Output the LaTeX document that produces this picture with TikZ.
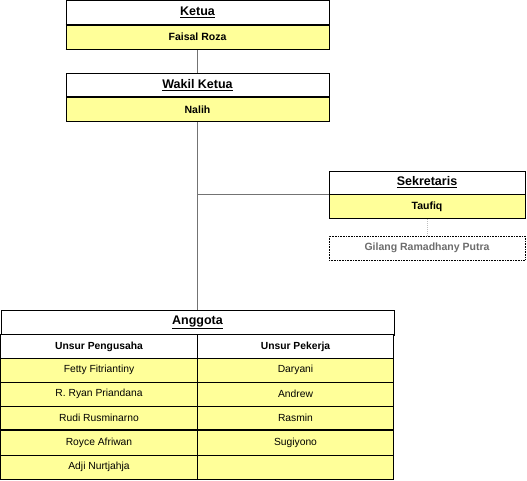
\documentclass[tikz,border=0pt]{standalone}
\usepackage{fontspec}
\setmainfont{Liberation Sans}
\usepackage{tikz}
\usetikzlibrary{positioning}
\definecolor{kuning}{HTML}{FFFF99}
\tikzstyle{judul} = [draw=black, fill=white, line width=0.8pt, inner sep=0pt, font=\fontsize{12.5}{14}\selectfont\bfseries]
\tikzstyle{nama} = [draw=black, fill=kuning, line width=0.8pt, inner sep=0pt, font=\fontsize{10.5}{12}\selectfont\bfseries]
\tikzstyle{sel} = [draw=black, fill=kuning, line width=0.6pt, inner sep=0pt, minimum width=196.5pt, minimum height=24pt, font=\fontsize{10.3}{12}\selectfont]
\tikzstyle{kepala} = [sel, fill=white, font=\fontsize{10.3}{12}\selectfont\bfseries]
\tikzstyle{garis} = [draw=gray!90!black, line width=1.5pt]
\begin{document}
\begin{tikzpicture}[x=1pt,y=-1pt]
					\useasboundingbox (0,0) rectangle (527,481);
					% ketua
					\node [judul, minimum width=263pt, minimum height=23.5pt] (ketua) at (197.5,12.5) {\underline{Ketua}};
					\node [nama, minimum width=263pt, minimum height=24pt, below=0pt of ketua] (faisal) {Faisal Roza};
					% wakil ketua
					\node [judul, minimum width=263pt, minimum height=23.5pt] (wakil) at (197.5,85) {\underline{Wakil Ketua}};
					\node [nama, minimum width=263pt, minimum height=24pt, below=0pt of wakil] (nalih) {Nalih};
					% sekretaris
					\node [judul, minimum width=196pt, minimum height=23pt] (sekretaris) at (427,182.5) {\underline{Sekretaris}};
					\node [nama, minimum width=196pt, minimum height=24pt, below=0pt of sekretaris] (taufiq) {Taufiq};
					\node [draw=black, densely dotted, line width=0.6pt, inner sep=0pt, minimum width=196pt, minimum height=24pt, text=gray!85!black, font=\fontsize{10.5}{12}\selectfont\bfseries] (gilang) at (427,248) {Gilang Ramadhany Putra};
					% anggota
					\node [judul, line width=1pt, minimum width=393pt, minimum height=25pt] (anggota) at (197.5,322.5) {\underline{Anggota}};
					\node [kepala] (pengusaha) at (99,346.5) {Unsur Pengusaha};
					\node [kepala] (pekerja) at (295.5,346.5) {Unsur Pekerja};
					\foreach \i/\y/\h/\a/\b in {1/370/24/Fetty Fitriantiny/Daryani, 2/394/24/R. Ryan Priandana/Andrew, 3/418/24/Rudi Rusminarno/Rasmin, 4/442.5/25/Royce Afriwan/Sugiyono, 5/467/24/Adji Nurtjahja/{}}{
						\node [sel, minimum height=\h pt] (p\i) at (99,\y) {\a};
						\node [sel, minimum height=\h pt] (k\i) at (295.5,\y) {\b};
					}
					\draw [line width=1.6pt] (p4.north west) -- (k4.north east);
					\draw [line width=1.2pt] (ketua.south west) -- (ketua.south east);
					% garis
					\draw [garis] (faisal) -- (wakil);
					\draw [garis] (nalih) -- (anggota);
					\draw [garis] (nalih |- taufiq.north west) -- (taufiq.north west);
					\draw [draw=gray!50, line width=1pt, densely dotted] (taufiq) -- (gilang);
					\draw [line width=1.2pt] (faisal.south west) -- (faisal.south east);
\end{tikzpicture}
\end{document}
